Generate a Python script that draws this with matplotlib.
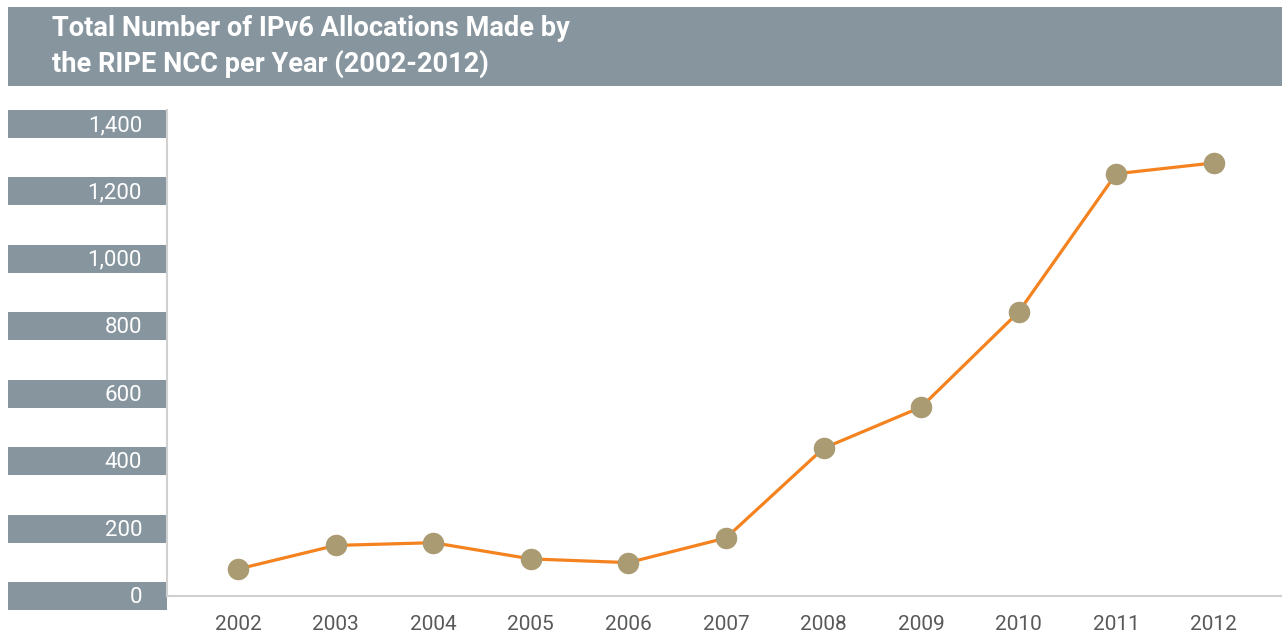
import matplotlib
matplotlib.use("Agg")
import matplotlib.pyplot as plt
from matplotlib.patches import Rectangle
from matplotlib.transforms import blended_transform_factory

# data
years = [2002, 2003, 2004, 2005, 2006, 2007, 2008, 2009, 2010, 2011, 2012]
allocations = [80, 150, 158, 110, 99, 172, 438, 560, 842, 1252, 1284]
y_ticks = [0, 200, 400, 600, 800, 1000, 1200, 1400]
title_lines = ["Total Number of IPv6 Allocations Made by",
               "the RIPE NCC per Year (2002-2012)"]

W, H = 1282, 638
band_col = "#87959f"
line_col = "#f4821f"
dot_col = "#aa9b72"
axis_col = "#d0d0d0"
fonts = ["Liberation Sans Narrow", "DejaVu Sans Condensed", "Roboto", "DejaVu Sans"]

fig = plt.figure(figsize=(W / 100, H / 100), dpi=100)
fig.patch.set_facecolor("white")

# header band with the title
fig.patches.append(Rectangle((8 / W, 1 - 86 / H), 1 - 8 / W, 79 / H,
                             transform=fig.transFigure, facecolor=band_col,
                             edgecolor="none"))
for i, line in enumerate(title_lines):
    fig.text(52 / W, 1 - (28 + 36 * i) / H, line, color="white",
             fontsize=19.6, fontweight="bold", family=fonts,
             ha="left", va="center")

# plot area: x 167..1282, y 110..596 px
ax = fig.add_axes([167 / W, 1 - 596 / H, (W - 167) / W, (596 - 110) / H])
ymin, ymax = 0, 1441
ax.set_xlim(2001.27, 2012.70)
ax.set_ylim(ymin, ymax)

ax.plot(years, allocations, color=line_col, lw=2.3, zorder=2)
ax.plot(years, allocations, "o", color=dot_col, ms=15.5, mec="none", zorder=3)

for s in ["top", "right"]:
    ax.spines[s].set_visible(False)
for s in ["left", "bottom"]:
    ax.spines[s].set_color(axis_col)
    ax.spines[s].set_linewidth(1.5)

ax.set_yticks([])
ax.set_xticks(years)
ax.tick_params(axis="x", length=0, pad=14, labelsize=15, labelcolor="#58595b")
for lab in ax.get_xticklabels():
    lab.set_family(fonts)

# y labels drawn as grey bands left of the axis
trans = blended_transform_factory(fig.transFigure, ax.transData)
band_h = 28 * (ymax - ymin) / (596 - 110)
for v in y_ticks:
    r = Rectangle((8 / W, v - band_h / 2), (167 - 8) / W, band_h,
                  transform=trans, facecolor=band_col, edgecolor="none",
                  clip_on=False, zorder=1)
    ax.add_patch(r)
    ax.text(142 / W, v - 5, f"{v:,}", transform=trans, ha="right", va="center",
            color="white", fontsize=16, family=fonts, clip_on=False)

fig.savefig("out.png", dpi=100)
